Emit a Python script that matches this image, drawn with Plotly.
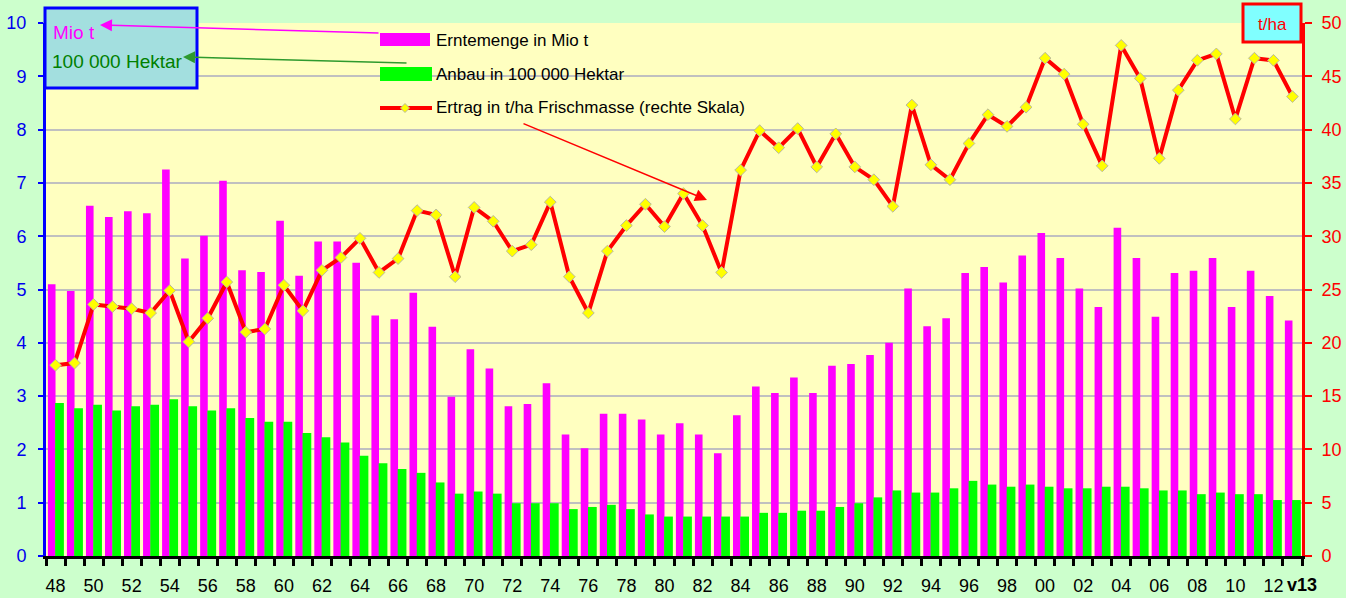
import plotly.graph_objects as go

years = [1948, 1949, 1950, 1951, 1952, 1953, 1954, 1955, 1956, 1957, 1958, 1959,
         1960, 1961, 1962, 1963, 1964, 1965, 1966, 1967, 1968, 1969, 1970, 1971,
         1972, 1973, 1974, 1975, 1976, 1977, 1978, 1979, 1980, 1981, 1982, 1983,
         1984, 1985, 1986, 1987, 1988, 1989, 1990, 1991, 1992, 1993, 1994, 1995,
         1996, 1997, 1998, 1999, 2000, 2001, 2002, 2003, 2004, 2005, 2006, 2007,
         2008, 2009, 2010, 2011, 2012, 2013]

ernte_mio_t = [5.10, 4.97, 6.57, 6.36, 6.47, 6.43, 7.25, 5.58, 6.01, 7.04, 5.36, 5.33,
               6.29, 5.26, 5.90, 5.90, 5.50, 4.51, 4.44, 4.94, 4.30, 2.99, 3.88, 3.52,
               2.81, 2.85, 3.24, 2.28, 2.02, 2.67, 2.67, 2.56, 2.28, 2.49, 2.28, 1.93,
               2.64, 3.18, 3.06, 3.35, 3.06, 3.57, 3.60, 3.77, 4.00, 5.02, 4.31, 4.46,
               5.31, 5.42, 5.13, 5.64, 6.06, 5.59, 5.02, 4.67, 6.16, 5.59, 4.49, 5.31,
               5.35, 5.59, 4.67, 5.35, 4.88, 4.42]

anbau_100000_ha = [2.87, 2.77, 2.84, 2.73, 2.81, 2.84, 2.94, 2.81, 2.73, 2.77, 2.59, 2.52,
                   2.52, 2.31, 2.23, 2.13, 1.88, 1.74, 1.63, 1.56, 1.38, 1.17, 1.21, 1.17,
                   0.99, 0.99, 0.99, 0.88, 0.92, 0.96, 0.88, 0.78, 0.74, 0.74, 0.74, 0.74,
                   0.74, 0.81, 0.81, 0.85, 0.85, 0.92, 0.99, 1.10, 1.23, 1.19, 1.19, 1.27,
                   1.41, 1.34, 1.30, 1.34, 1.30, 1.27, 1.27, 1.30, 1.30, 1.27, 1.23, 1.23,
                   1.16, 1.19, 1.16, 1.16, 1.05, 1.05]

ertrag_t_ha = [17.9, 18.1, 23.6, 23.4, 23.2, 22.8, 24.9, 20.1, 22.3, 25.7, 21.0, 21.3,
               25.4, 23.0, 26.8, 28.0, 29.8, 26.6, 27.9, 32.4, 32.0, 26.2, 32.7, 31.4,
               28.6, 29.2, 33.2, 26.2, 22.8, 28.6, 31.0, 33.0, 30.9, 34.0, 31.0, 26.6,
               36.2, 39.9, 38.3, 40.1, 36.5, 39.6, 36.5, 35.3, 32.8, 42.3, 36.7, 35.3,
               38.7, 41.4, 40.3, 42.1, 46.7, 45.2, 40.5, 36.6, 47.9, 44.8, 37.3, 43.7,
               46.5, 47.1, 41.0, 46.7, 46.5, 43.1]

tick_years = [1948, 1950, 1952, 1954, 1956, 1958, 1960, 1962, 1964, 1966, 1968, 1970,
              1972, 1974, 1976, 1978, 1980, 1982, 1984, 1986, 1988, 1990, 1992, 1994,
              1996, 1998, 2000, 2002, 2004, 2006, 2008, 2010, 2012]
tick_labels = ["48", "50", "52", "54", "56", "58", "60", "62", "64", "66", "68", "70",
               "72", "74", "76", "78", "80", "82", "84", "86", "88", "90", "92", "94",
               "96", "98", "00", "02", "04", "06", "08", "10", "12"]
last_label = "v13"

legend_labels = ["Erntemenge in Mio t", "Anbau in 100 000 Hektar",
                 "Ertrag in t/ha Frischmasse (rechte Skala)"]

W, H = 1346, 598
L, R, T, B = 46, 44, 23, 42
PW, PH = W - L - R, H - T - B
FONT = "Liberation Sans, Arial, sans-serif"


def px(x):
    return (x - L) / PW


def py(y):
    return (H - B - y) / PH


fig = go.Figure()
fig.add_trace(go.Bar(x=years, y=ernte_mio_t, name=legend_labels[0],
                     marker=dict(color="#FF00FF", line=dict(width=0)),
                     width=0.40, offset=-0.40, showlegend=False))
fig.add_trace(go.Bar(x=years, y=anbau_100000_ha, name=legend_labels[1],
                     marker=dict(color="#00FF00", line=dict(width=0)),
                     width=0.46, offset=-0.02, showlegend=False))
fig.add_trace(go.Scatter(x=years, y=ertrag_t_ha, name=legend_labels[2], yaxis="y2",
                         mode="lines+markers",
                         line=dict(color="#FF0000", width=4),
                         marker=dict(symbol="diamond", size=9, color="#FFFF00",
                                     line=dict(color="#B8B8A0", width=1)),
                         showlegend=False))

shapes = []
annotations = []

# background of legend area (covers gridlines)
shapes.append(dict(type="rect", xref="paper", yref="paper", layer="between",
                   x0=px(350), x1=px(773), y0=py(122), y1=py(23),
                   fillcolor="#FFFFC0", line=dict(width=0)))

# manual legend symbols
shapes.append(dict(type="rect", xref="paper", yref="paper", layer="above",
                   x0=px(380), x1=px(430), y0=py(46), y1=py(33),
                   fillcolor="#FF00FF", line=dict(width=0)))
shapes.append(dict(type="rect", xref="paper", yref="paper", layer="above",
                   x0=px(380), x1=px(432), y0=py(81), y1=py(67),
                   fillcolor="#00FF00", line=dict(width=0)))
shapes.append(dict(type="line", xref="paper", yref="paper", layer="above",
                   x0=px(380), x1=px(432), y0=py(108), y1=py(108),
                   line=dict(color="#FF0000", width=4)))
dx, dy = 4.5 / PW, 4.5 / PH
cx, cy = px(405), py(108)
shapes.append(dict(type="path", xref="paper", yref="paper", layer="above",
                   path=f"M {cx-dx},{cy} L {cx},{cy+dy} L {cx+dx},{cy} L {cx},{cy-dy} Z",
                   fillcolor="#FFFF00", line=dict(color="#B8B8A0", width=1)))
for label, yy in zip(legend_labels, [40, 74, 108]):
    annotations.append(dict(xref="paper", yref="paper", x=px(434), y=py(yy),
                            xanchor="left", yanchor="middle", showarrow=False,
                            text=label, font=dict(family=FONT, size=17, color="#000000")))

# top-left unit box
shapes.append(dict(type="rect", xref="paper", yref="paper", layer="above",
                   x0=px(45), x1=px(197), y0=py(88), y1=py(8),
                   fillcolor="#A3DFDF", line=dict(color="#0000FF", width=3)))
annotations.append(dict(xref="paper", yref="paper", x=px(51), y=py(33),
                        xanchor="left", yanchor="middle", showarrow=False,
                        text="Mio t", font=dict(family=FONT, size=19, color="#FF00FF")))
annotations.append(dict(xref="paper", yref="paper", x=px(50), y=py(61),
                        xanchor="left", yanchor="middle", showarrow=False,
                        text="100 000 Hektar", font=dict(family=FONT, size=19, color="#008000")))

# right unit box
shapes.append(dict(type="rect", xref="paper", yref="paper", layer="above",
                   x0=px(1243), x1=px(1301), y0=py(42), y1=py(4),
                   fillcolor="#80FFFF", line=dict(color="#FF0000", width=3)))
annotations.append(dict(xref="paper", yref="paper", x=px(1272), y=py(24),
                        xanchor="center", yanchor="middle", showarrow=False,
                        text="t/ha", font=dict(family=FONT, size=17, color="#FF0000")))

# last x label (shifted right as in the original)
annotations.append(dict(xref="x", yref="paper", x=2013.5, y=py(585),
                        xanchor="center", yanchor="middle", showarrow=False,
                        text="<b>" + last_label + "</b>",
                        font=dict(family=FONT, size=18, color="#000000")))

# arrows
annotations.append(dict(xref="paper", yref="paper", x=px(100), y=py(25),
                        ax=280, ay=8, text="", showarrow=True, arrowhead=2,
                        arrowsize=1.6, arrowwidth=1.5, arrowcolor="#FF00FF"))
annotations.append(dict(xref="paper", yref="paper", x=px(183), y=py(57),
                        ax=225, ay=6, text="", showarrow=True, arrowhead=2,
                        arrowsize=1.6, arrowwidth=1.5, arrowcolor="#2E9A2E"))
annotations.append(dict(xref="paper", yref="paper", x=px(707), y=py(200),
                        ax=-185, ay=-77, text="", showarrow=True, arrowhead=2,
                        arrowsize=1.6, arrowwidth=1.5, arrowcolor="#FF0000"))

fig.update_layout(
    width=W, height=H,
    margin=dict(l=L, r=R, t=T, b=B, pad=0, autoexpand=False),
    paper_bgcolor="#CCFFCC",
    plot_bgcolor="#FFFFC0",
    barmode="overlay",
    showlegend=False,
    hovermode=False,
    font=dict(family=FONT, size=17),
    xaxis=dict(range=[1947.5, 2013.5], tickmode="array", tickvals=tick_years,
               ticktext=tick_labels, tickangle=0, automargin=False,
               ticks="outside", ticklen=11, tickcolor="rgba(0,0,0,0)",
               tickfont=dict(family=FONT, size=18, color="#000000"),
               showgrid=False, zeroline=False,
               showline=True, linecolor="#000000", linewidth=3,
               minor=dict(tickmode="linear", tick0=1947.5, dtick=1, ticks="outside",
                          ticklen=7, tickwidth=3, tickcolor="#000000", showgrid=False)),
    yaxis=dict(range=[0, 10], dtick=1, tick0=0, automargin=False,
               showgrid=True, gridcolor="#C0C0C0", gridwidth=1.5,
               zeroline=False, showline=True, linecolor="#0000FF", linewidth=3,
               ticks="outside", ticklen=5, tickwidth=2, tickcolor="#0000FF",
               tickfont=dict(family=FONT, size=18, color="#0000EE"),
               ticklabelstandoff=8),
    yaxis2=dict(range=[0, 50], dtick=5, tick0=0, overlaying="y", side="right",
                automargin=False,
                showgrid=False, zeroline=False, showline=True,
                linecolor="#FF0000", linewidth=3,
                ticks="outside", ticklen=7, tickwidth=2, tickcolor="#FF0000",
                tickfont=dict(family=FONT, size=18, color="#FF0000"),
                ticklabelstandoff=6),
    shapes=shapes,
    annotations=annotations,
)

fig.write_html("out.html",
               config={"displayModeBar": False},
               post_script="document.body.style.margin='0px';"
                           "document.body.style.background='#CCFFCC';")
